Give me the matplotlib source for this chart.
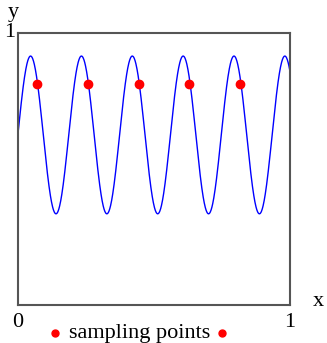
import numpy as np
import matplotlib.pyplot as plt

plt.rcParams['font.family'] = ['Liberation Serif', 'DejaVu Serif']

# signal parameters
freq = 5.35
offset = 0.625
amp = 0.29
phase = 0.015

# sampling instants and sampled values
sample_x = [0.069, 0.258, 0.445, 0.630, 0.816]
sample_y = [0.813, 0.813, 0.813, 0.813, 0.813]

x = np.linspace(0, 1, 1000)
y = offset + amp * np.sin(2 * np.pi * freq * x + phase)

fig = plt.figure(figsize=(3.27, 3.43), dpi=100)
ax = fig.add_axes([0.055, 0.111, 0.832, 0.793])
ax.plot(x, y, color='blue', lw=1.0)
ax.plot(sample_x, sample_y, 'o', color='red', ms=6, mec='red')
ax.set_xlim(0, 1)
ax.set_ylim(0, 1)
ax.set_xticks([])
ax.set_yticks([])
for s in ax.spines.values():
    s.set_color('#555555')
    s.set_linewidth(1.5)

fs = 16
fig.text(0.04, 0.935, 'y', fontsize=fs, ha='center', va='bottom')
fig.text(0.03, 0.904, '1', fontsize=fs, ha='center', va='center')
fig.text(0.055, 0.06, '0', fontsize=fs, ha='center', va='center')
fig.text(0.887, 0.06, '1', fontsize=fs, ha='center', va='center')
fig.text(0.975, 0.12, 'x', fontsize=fs, ha='center', va='center')

# legend line under the axis
fig.text(0.21, 0.028, 'sampling points', fontsize=fs, ha='left', va='center')
fig.lines.append(plt.Line2D([0.168], [0.028], transform=fig.transFigure,
                            marker='o', color='red', ms=5, ls=''))
fig.lines.append(plt.Line2D([0.678], [0.028], transform=fig.transFigure,
                            marker='o', color='red', ms=5, ls=''))

fig.savefig('out.png', dpi=100)
